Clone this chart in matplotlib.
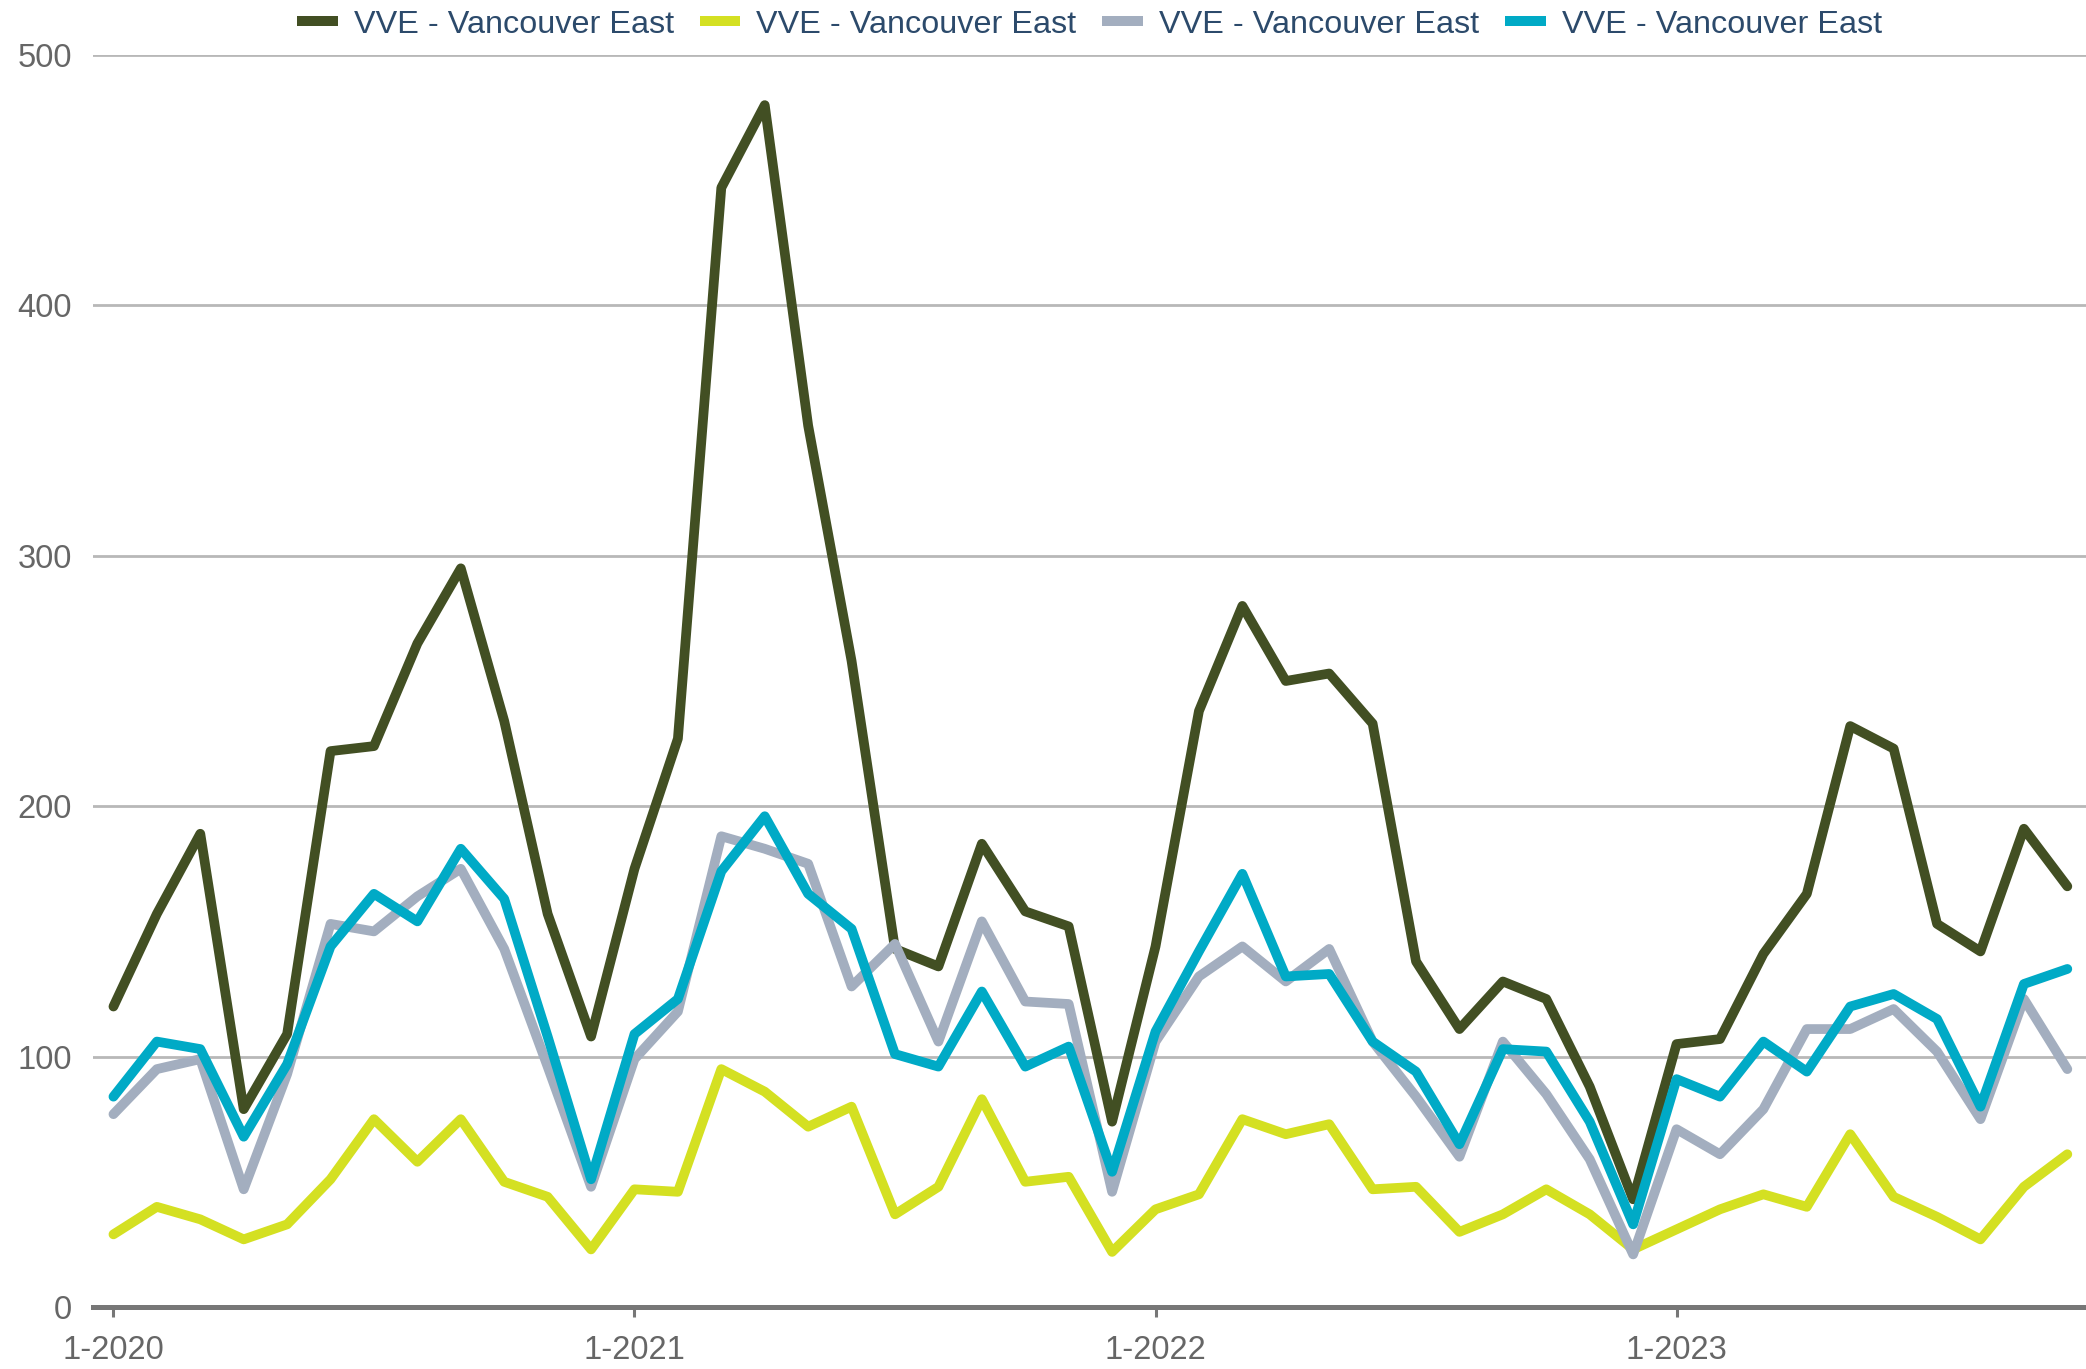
import numpy as np
import matplotlib
matplotlib.use("Agg")
import matplotlib.pyplot as plt
from matplotlib.lines import Line2D

plt.rcParams['font.family'] = ['Liberation Sans', 'DejaVu Sans']

# ---- data (monthly, Jan 2020 .. Oct 2023) ----
series_labels = ["VVE - Vancouver East", "VVE - Vancouver East",
                 "VVE - Vancouver East", "VVE - Vancouver East"]
dark_green = [120, 157, 189, 79, 109, 222, 224, 265, 295, 234,
              157, 108, 175, 227, 447, 480, 352, 258, 143, 136,
              185, 158, 152, 74, 144, 238, 280, 250, 253, 233,
              138, 111, 130, 123, 88, 43, 105, 107, 141, 165,
              232, 223, 153, 142, 191, 168]
yellow = [29, 40, 35, 27, 33, 51, 75, 58, 75, 50,
          44, 23, 47, 46, 95, 86, 72, 80, 37, 48,
          83, 50, 52, 22, 39, 45, 75, 69, 73, 47,
          48, 30, 37, 47, 37, 23, 31, 39, 45, 40,
          69, 44, 36, 27, 48, 61]
gray = [77, 95, 99, 47, 93, 153, 150, 164, 175, 143,
        96, 48, 99, 118, 188, 183, 177, 128, 145, 106,
        154, 122, 121, 46, 106, 132, 144, 130, 143, 106,
        84, 60, 106, 85, 59, 21, 71, 61, 79, 111,
        111, 119, 102, 75, 123, 95]
cyan = [84, 106, 103, 68, 97, 144, 165, 154, 183, 163,
        108, 51, 109, 123, 174, 196, 165, 151, 101, 96,
        126, 96, 104, 54, 110, 142, 173, 132, 133, 106,
        94, 65, 103, 102, 74, 33, 91, 84, 106, 94,
        120, 125, 115, 80, 129, 135]
x_tick_pos = [0, 12, 24, 36]
x_tick_labels = ["1-2020", "1-2021", "1-2022", "1-2023"]
y_ticks = [0, 100, 200, 300, 400, 500]

colors = ["#424f23", "#d4e022", "#a3aebf", "#00aac6"]

fig = plt.figure(figsize=(20.86, 13.69), dpi=100)
ax = fig.add_axes([0.0446, 0.0453, 1.0 - 0.0446, 0.9598 - 0.0453])

x = np.arange(len(dark_green))
for vals, c, lab in zip([dark_green, yellow, gray, cyan], colors, series_labels):
    ax.plot(x, vals, color=c, lw=7.0, solid_joinstyle='round',
            solid_capstyle='round', label=lab, zorder=3)

ax.set_xlim(-0.47, 45.43)
ax.set_ylim(0, 500)
ax.set_yticks(y_ticks)
ax.set_xticks(x_tick_pos)
ax.set_xticklabels(x_tick_labels)

ax.yaxis.grid(True, color="#b8b8b8", lw=2.0)
ax.set_axisbelow(True)
for s in ['top', 'right', 'left']:
    ax.spines[s].set_visible(False)
ax.spines['bottom'].set_color("#777777")
ax.spines['bottom'].set_linewidth(3.6)
ax.spines['bottom'].set_zorder(4)

ax.tick_params(axis='y', length=0, pad=15, labelsize=23.5, labelcolor="#666666")
ax.tick_params(axis='x', length=7, width=2.2, color="#777777", pad=13,
               labelsize=23.5, labelcolor="#666666")

handles = [Line2D([0], [0], color=c, lw=7.2, solid_capstyle='butt') for c in colors]
leg = fig.legend(handles, series_labels, loc='center', ncol=4,
                 bbox_to_anchor=(0.5223, 0.982), frameon=False,
                 fontsize=23.3, handlelength=1.25, handletextpad=0.5,
                 columnspacing=0.8, labelcolor="#2c4a6b")

fig.savefig("out.png", dpi=100)
